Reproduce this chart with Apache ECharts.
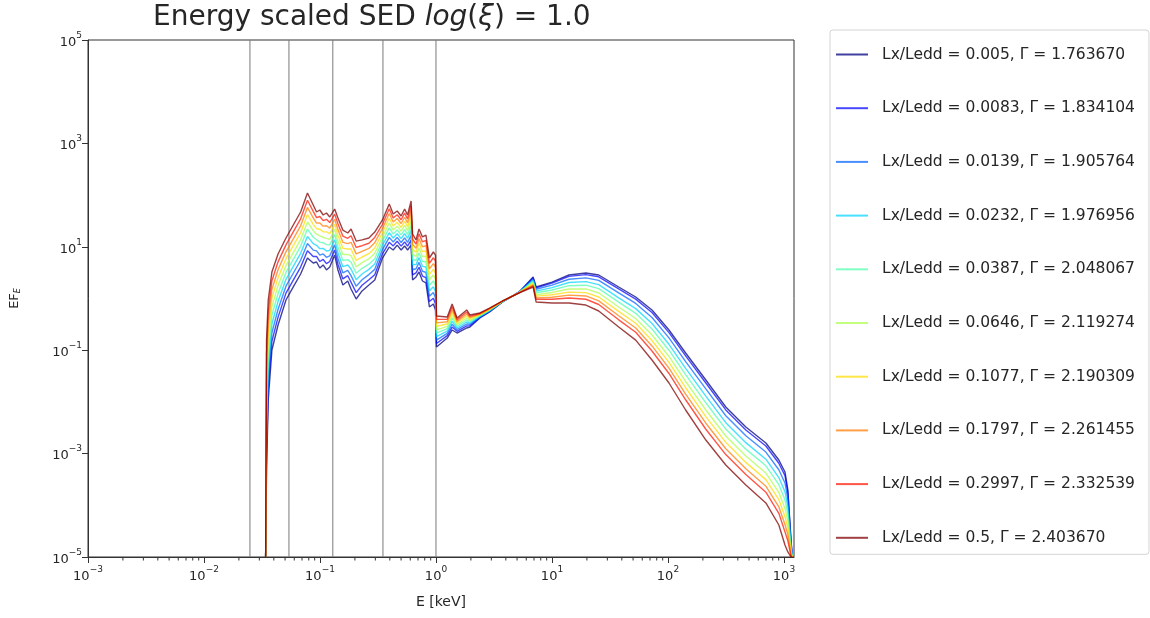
<!DOCTYPE html>
<html><head><meta charset="utf-8">
<script src="https://cdn.jsdelivr.net/npm/echarts@6/dist/echarts.min.js"></script>
<style>html,body{margin:0;padding:0;background:#fff}#c{width:1150px;height:618px}</style>
</head><body><div id="c"></div><script>
// ---------------- data ----------------
const energy = [
  0.0340,0.0346,0.0358,0.0385,0.0435,0.0509,0.0595,0.0681,0.0780,0.0874,
  0.0934,0.0997,0.1065,0.1137,0.1214,0.1338,0.1428,0.1574,0.1735,0.1852,
  0.2051,0.2305,0.2640,0.2965,0.3455,0.3954,0.4277,0.4627,0.5006,0.5367,
  0.5690,0.6100,0.6282,0.6728,0.7140,0.7648,0.8190,0.8771,0.9491,0.990,
  1.010,1.25,1.378,1.52,1.84,1.96,2.39,2.90,3.74,5.22,
  6.88,7.30,10.0,14.0,19.6,25.3,37.6,52.7,72.8,102,
  142,212,315,469,698,903,1020,1080,1150,1180];

const s0 = [
  1e-5,4.8e-4,0.0109,0.101,0.307,0.935,1.75,2.98,6.07,4.86,
  5.08,3.89,4.45,3.56,4.06,6.93,3.56,1.82,2.18,1.53,
  0.977,1.40,1.82,2.28,6.07,9.91,8.67,10.8,8.67,10.4,
  8.67,10.8,2.28,2.61,3.26,2.18,2.00,0.686,0.783,0.600,
  0.115,0.172,0.246,0.215,0.269,0.281,0.420,0.548,0.855,1.34,
  2.61,1.67,2.08,2.85,3.11,2.85,1.67,1.07,0.600,0.246,
  0.0883,0.0265,0.00796,0.00327,0.00160,0.000752,0.000441,0.000198,2.1e-5,1e-5];
const s1 = [
  1e-5,9.2e-4,0.0179,0.149,0.436,1.27,2.37,4.05,8.37,6.49,
  6.50,5.19,5.69,4.72,5.20,8.71,4.60,2.39,2.76,2.06,
  1.30,1.80,2.30,2.89,7.33,12.2,10.4,12.8,10.3,12.4,
  10.3,13.5,2.86,3.13,4.03,2.71,2.53,0.873,1.01,0.787,
  0.135,0.191,0.280,0.232,0.294,0.299,0.431,0.560,0.860,1.33,
  2.48,1.61,1.99,2.68,2.90,2.63,1.53,0.971,0.537,0.219,
  0.0778,0.0232,0.00700,0.00287,0.00140,0.000650,0.000374,0.000172,2.0e-5,1e-5];
const s2 = [
  1e-5,1.75e-3,0.0293,0.218,0.620,1.73,3.22,5.50,11.6,8.63,
  8.34,6.90,7.29,6.25,6.67,10.9,5.96,3.14,3.50,2.77,
  1.73,2.31,2.90,3.66,8.83,15.2,12.4,15.2,12.1,14.9,
  12.2,16.7,3.60,3.76,4.99,3.37,3.21,1.11,1.31,1.03,
  0.157,0.212,0.318,0.249,0.321,0.317,0.442,0.570,0.864,1.33,
  2.36,1.51,1.81,2.36,2.51,2.24,1.28,0.802,0.429,0.173,
  0.0603,0.0178,0.00540,0.00222,0.00107,0.000487,0.000270,0.000131,1.8e-5,1e-5];
const s3 = [
  1e-5,3.3e-3,0.0481,0.321,0.881,2.35,4.39,7.48,15.9,11.5,
  10.7,9.20,9.33,8.30,8.53,13.7,7.69,4.13,4.45,3.72,
  2.31,2.98,3.66,4.65,10.7,18.7,14.8,17.9,14.4,17.9,
  14.6,20.8,4.52,4.52,6.17,4.19,4.06,1.42,1.69,1.36,
  0.183,0.235,0.362,0.269,0.351,0.336,0.452,0.582,0.868,1.32,
  2.24,1.39,1.62,2.04,2.12,1.85,1.03,0.637,0.329,0.130,
  0.0445,0.0129,0.00396,0.00163,0.000779,0.000344,0.000183,9.38e-5,1.6e-5,1e-5];
const s4 = [
  1e-5,6.3e-3,0.0789,0.473,1.25,3.19,5.96,10.2,22.0,15.3,
  13.7,12.3,12.0,11.0,10.9,17.3,9.95,5.42,5.64,5.01,
  3.08,3.84,4.62,5.89,12.9,23.2,17.7,21.2,17.0,21.5,
  17.3,25.9,5.68,5.42,7.62,5.21,5.15,1.81,2.19,1.78,
  0.213,0.261,0.412,0.290,0.384,0.356,0.463,0.593,0.872,1.32,
  2.14,1.29,1.46,1.77,1.81,1.55,0.848,0.516,0.257,0.100,
  0.0336,0.00961,0.00298,0.00122,0.000580,0.000250,0.000128,6.92e-5,1.45e-5,1e-5];
const s5 = [
  1e-5,0.012,0.129,0.695,1.78,4.34,8.09,13.8,30.3,20.5,
  17.5,16.3,15.3,14.6,14.0,21.7,12.9,7.11,7.14,6.75,
  4.10,4.94,5.83,7.48,15.5,28.7,21.1,25.1,20.1,25.9,
  20.6,32.2,7.13,6.52,9.44,6.49,6.55,2.30,2.84,2.34,
  0.248,0.289,0.468,0.312,0.420,0.378,0.475,0.605,0.876,1.31,
  2.03,1.19,1.31,1.53,1.53,1.28,0.685,0.410,0.197,0.0756,
  0.0248,0.00698,0.00219,0.000898,0.000421,0.000177,8.67e-5,4.97e-5,1.3e-5,1e-5];
const s6 = [
  1e-5,0.023,0.212,1.02,2.53,5.89,11.0,18.7,41.9,27.2,
  22.4,21.8,19.6,19.4,17.9,27.2,16.7,9.33,9.06,9.06,
  5.47,6.35,7.36,9.48,18.7,35.6,25.2,29.7,23.8,31.0,
  24.5,40.0,8.93,7.83,11.7,8.05,8.30,2.93,3.66,3.07,
  0.290,0.321,0.532,0.336,0.459,0.402,0.488,0.618,0.880,1.31,
  1.93,1.11,1.18,1.33,1.30,1.07,0.563,0.332,0.154,0.0583,
  0.0188,0.00520,0.00165,0.000676,0.000314,0.000129,6.06e-5,3.67e-5,1.2e-5,1e-5];
const s7 = [
  1e-5,0.043,0.348,1.51,3.60,8.00,14.9,25.5,57.7,36.3,
  28.7,29.0,25.1,25.6,23.0,34.1,21.6,12.2,11.5,12.2,
  7.29,8.18,9.29,12.0,22.6,44.0,30.1,35.2,28.2,37.3,
  29.1,49.8,11.2,9.40,14.4,10.0,10.5,3.73,4.74,4.03,
  0.338,0.356,0.605,0.361,0.501,0.427,0.500,0.630,0.884,1.30,
  1.84,1.03,1.06,1.16,1.12,0.898,0.463,0.269,0.121,0.0450,
  0.0142,0.00387,0.00124,0.000509,0.000234,9.35e-5,4.24e-5,2.71e-5,1.1e-5,1e-5];
const s8 = [
  1e-5,0.083,0.570,2.21,5.12,10.9,20.3,34.7,79.6,48.3,
  36.7,38.6,32.1,34.0,29.4,42.9,27.9,16.1,14.6,16.4,
  9.72,10.5,11.7,15.2,27.3,54.4,36.1,41.6,33.3,44.8,
  34.7,61.8,14.1,11.3,17.8,12.5,13.3,4.76,6.14,5.28,
  0.394,0.395,0.689,0.390,0.548,0.452,0.512,0.643,0.888,1.29,
  1.75,0.964,0.968,1.02,0.967,0.765,0.387,0.222,0.0964,0.0355,
  0.0110,0.00296,0.000957,0.000393,0.000179,7.0e-5,3.06e-5,2.06e-5,1.05e-5,1e-5];
const s9 = [
  1e-5,0.157,0.935,3.26,7.26,14.8,27.6,47.1,110,64.4,
  47.1,51.5,41.2,45.1,37.7,53.8,36.1,21.1,18.5,22.1,
  12.9,13.6,14.8,19.3,33.0,67.3,43.1,49.2,39.4,53.8,
  41.2,76.9,17.7,13.6,22.1,15.5,16.9,6.07,7.93,6.93,
  0.459,0.439,0.783,0.420,0.600,0.480,0.525,0.655,0.895,1.28,
  1.67,0.855,0.818,0.818,0.748,0.573,0.281,0.157,0.0646,0.0232,
  0.00697,0.00183,0.000601,0.000247,0.000111,4.16e-5,1.71e-5,1.25e-5,1e-5,1e-5];

const seriesNames = [
  'Lx/Ledd = 0.005, \u0393 = 1.763670',
  'Lx/Ledd = 0.0083, \u0393 = 1.834104',
  'Lx/Ledd = 0.0139, \u0393 = 1.905764',
  'Lx/Ledd = 0.0232, \u0393 = 1.976956',
  'Lx/Ledd = 0.0387, \u0393 = 2.048067',
  'Lx/Ledd = 0.0646, \u0393 = 2.119274',
  'Lx/Ledd = 0.1077, \u0393 = 2.190309',
  'Lx/Ledd = 0.1797, \u0393 = 2.261455',
  'Lx/Ledd = 0.2997, \u0393 = 2.332539',
  'Lx/Ledd = 0.5, \u0393 = 2.403670'];
const seriesValues = [s0,s1,s2,s3,s4,s5,s6,s7,s8,s9];
const lineColors = [
  'rgba(0,0,128,0.75)','rgba(0,0,255,0.72)','rgba(0,99,255,0.72)','rgba(0,212,255,0.72)',
  'rgba(77,255,170,0.72)','rgba(170,255,77,0.72)','rgba(255,220,0,0.72)','rgba(255,124,0,0.72)',
  'rgba(255,20,0,0.72)','rgba(128,0,0,0.75)'];
const verticalLines = [0.0249, 0.054, 0.129, 0.349, 1.0];
const minorMultipliers = [2,3,4,5,6,7,8,9];
const minorDecades = [1e-3,1e-2,1e-1,1,10,100];

// ---------------- chart ----------------
const FONT = 'DejaVu Sans';
const TXT = '#262626';
const supRich = {
  b: {fontFamily: FONT, fontSize: 13, color: TXT, lineHeight: 18, verticalAlign: 'bottom'},
  s: {fontFamily: FONT, fontSize: 9, color: TXT, lineHeight: 18, verticalAlign: 'top'}
};
function powLabel(v) {
  const e = Math.round(Math.log10(v));
  return '{b|10}{s|' + String(e).replace('-', '\u2212') + '}';
}
const minorTicks = [];
minorDecades.forEach(d => minorMultipliers.forEach(m => minorTicks.push([d * m, 1e-5])));

const series = seriesValues.map((vals, k) => ({
  name: seriesNames[k], type: 'line', symbol: 'none', animation: false,
  data: energy.map((e, i) => [e, vals[i]]),
  lineStyle: {width: 1.4, color: lineColors[k]},
  itemStyle: {color: lineColors[k]},
  z: 3 + k
}));
series.unshift({
  name: 'vlines', type: 'custom', silent: true, animation: false, z: 1,
  data: verticalLines.map(v => [v]), encode: {x: 0},
  renderItem: (params, api) => {
    const a = api.coord([api.value(0), 1e-5]);
    const b = api.coord([api.value(0), 1e5]);
    return {type: 'line', shape: {x1: a[0], y1: a[1], x2: b[0], y2: b[1]},
            style: {stroke: '#7a7a7a', lineWidth: 1}};
  }
});
series.push({
  name: 'minor', type: 'custom', silent: true, animation: false, clip: false,
  data: minorTicks, encode: {x: 0, y: 1},
  renderItem: (params, api) => {
    const p = api.coord([api.value(0), api.value(1)]);
    return {type: 'line', shape: {x1: p[0], y1: p[1], x2: p[0], y2: p[1] + 3.5},
            style: {stroke: '#333', lineWidth: 1}};
  }
});

const chart = echarts.init(document.getElementById('c'), null, {renderer: 'canvas'});
chart.setOption({
  backgroundColor: '#fff',
  animation: false,
  title: {
    left: 148, top: -1,
    text: '{n|Energy scaled SED }{i|log}{n|(}{i|\u03BE}{n|) = 1.0}',
    textStyle: {
      fontWeight: 'normal',
      rich: {
        n: {fontFamily: FONT, fontSize: 28, fontWeight: 'normal', color: TXT},
        i: {fontFamily: FONT, fontSize: 28, fontWeight: 'normal', fontStyle: 'italic', color: TXT}
      }
    }
  },
  legend: {
    orient: 'vertical', left: 830, top: 30,
    data: seriesNames, icon: 'rect', itemWidth: 32, itemHeight: 2, itemGap: 36.7,
    padding: [16, 14, 8, 6],
    borderColor: '#d4d4d4', borderWidth: 1, borderRadius: 3, backgroundColor: '#fff',
    selectedMode: false,
    textStyle: {fontFamily: FONT, fontSize: 15.5, color: TXT, lineHeight: 17, padding: [0, 0, 0, 9]}
  },
  grid: {left: 88, right: 356, top: 40, bottom: 61, show: true, borderColor: '#333', borderWidth: 1, backgroundColor: 'transparent'},
  xAxis: {
    type: 'log', logBase: 10, min: 0.001, max: 1220,
    axisLine: {show: true, lineStyle: {color: '#333', width: 1}},
    axisTick: {show: true, length: 6, lineStyle: {color: '#333'}},
    axisLabel: {formatter: powLabel, rich: supRich, margin: 8, showMaxLabel: false},
    splitLine: {show: false},
    name: 'E [keV]', nameLocation: 'middle', nameGap: 38,
    nameTextStyle: {fontFamily: FONT, fontSize: 14, color: TXT}
  },
  yAxis: {
    type: 'log', logBase: 10, min: 1e-5, max: 1e5, interval: 2,
    axisLine: {show: true, lineStyle: {color: '#333', width: 1}},
    axisTick: {show: true, length: 6, lineStyle: {color: '#333'}},
    axisLabel: {formatter: powLabel, rich: supRich, margin: 6},
    splitLine: {show: false},
    name: '{a|EF}{b|E}', nameLocation: 'middle', nameGap: 66, nameRotate: 90,
    nameTextStyle: {rich: {
      a: {fontFamily: FONT, fontSize: 13, color: TXT},
      b: {fontFamily: FONT, fontSize: 8, fontStyle: 'italic', color: TXT, verticalAlign: 'bottom', padding: [6, 0, 0, 0]}
    }}
  },
  series: series
});
</script></body></html>
